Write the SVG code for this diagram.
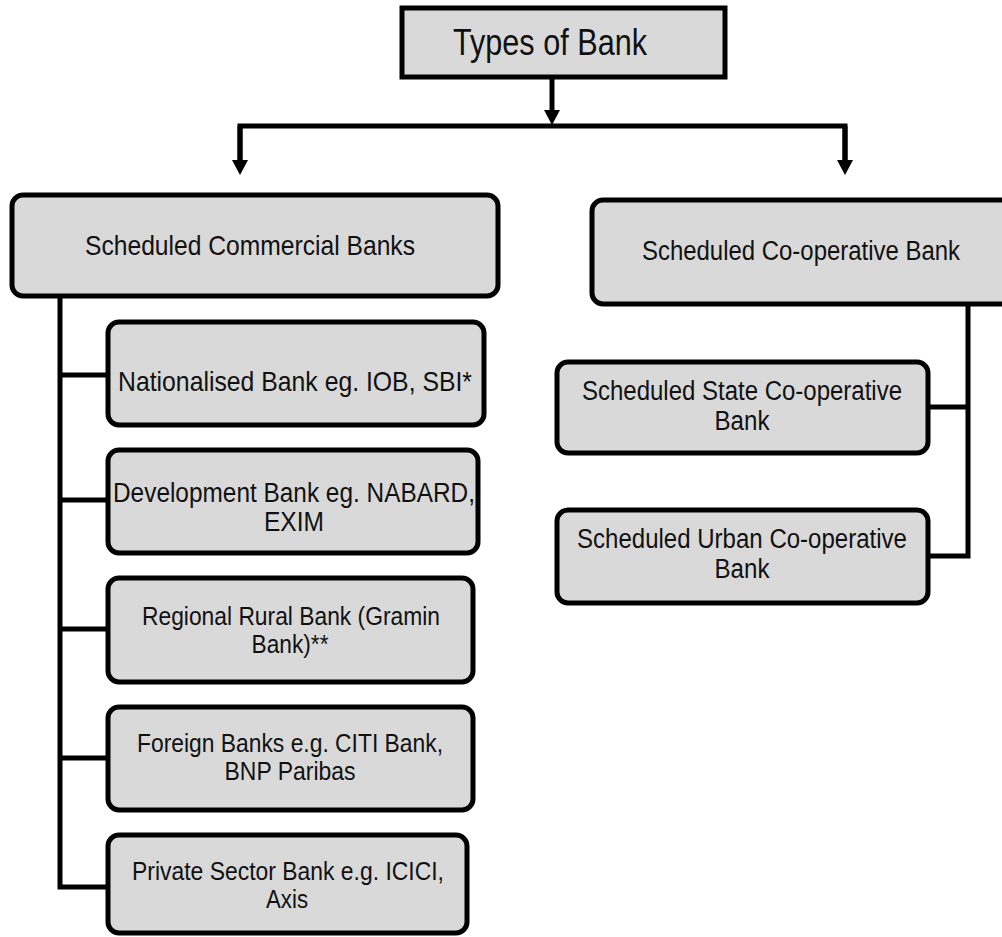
<svg xmlns="http://www.w3.org/2000/svg" width="1002" height="937" viewBox="0 0 1002 937">
<style>
.box{fill:#d9d9d9;stroke:#000;stroke-width:5}
.ln{fill:none;stroke:#000;stroke-width:5}
text{font-family:"Liberation Sans",Arial,sans-serif;fill:#111;text-anchor:middle}
.a{font-size:28px}
.b{font-size:27px}
.c{font-size:26px}
.h{font-size:37px}
</style>
<defs>
<marker id="ah" markerUnits="userSpaceOnUse" markerWidth="16" markerHeight="17" refX="8" refY="0" orient="auto" viewBox="0 -8.5 16 17" overflow="visible">
<path d="M0,-8 L15,0 L0,8 z" fill="#000"/>
</marker>
</defs>
<rect width="1002" height="937" fill="#fff"/>
<g id="connectors">
<path class="ln" d="M552,77 V118" marker-end="url(#ah)"/>
<path class="ln" d="M240,168 V126 H845 V168"/>
<path class="ln" d="M240,126 V168" marker-end="url(#ah)"/>
<path class="ln" d="M845,126 V168" marker-end="url(#ah)"/>
<path class="ln" d="M60,296 V887 H108 M60,375 H108 M60,500 H108 M60,629 H108 M60,758 H108"/>
<path class="ln" d="M968,304 V556 H928 M928,407 H968"/>
</g>
<g id="types-of-bank">
<rect class="box" x="402" y="8" width="323" height="69"/>
<text class="h" x="550" y="55" textLength="194" lengthAdjust="spacingAndGlyphs">Types of Bank</text>
</g>
<g id="scheduled-commercial">
<rect class="box" x="12" y="195" width="486" height="101" rx="11"/>
<text class="a" x="250" y="255" textLength="330" lengthAdjust="spacingAndGlyphs">Scheduled Commercial Banks</text>
</g>
<g id="scheduled-cooperative">
<rect class="box" x="592" y="200" width="420" height="104" rx="11"/>
<text class="b" x="801" y="260" textLength="318" lengthAdjust="spacingAndGlyphs">Scheduled Co-operative Bank</text>
</g>
<g id="nationalised">
<rect class="box" x="108" y="322" width="376" height="103" rx="11"/>
<text class="a" x="295" y="391" textLength="354" lengthAdjust="spacingAndGlyphs">Nationalised Bank eg. IOB, SBI*</text>
</g>
<g id="development">
<rect class="box" x="108" y="450" width="370" height="103" rx="11"/>
<text class="b" x="294" y="502" textLength="362" lengthAdjust="spacingAndGlyphs">Development Bank eg. NABARD,</text>
<text class="b" x="294" y="531" textLength="60" lengthAdjust="spacingAndGlyphs">EXIM</text>
</g>
<g id="regional">
<rect class="box" x="108" y="578" width="365" height="104" rx="11"/>
<text class="c" x="291" y="625" textLength="298" lengthAdjust="spacingAndGlyphs">Regional Rural Bank (Gramin</text>
<text class="c" x="290" y="653" textLength="77" lengthAdjust="spacingAndGlyphs">Bank)**</text>
</g>
<g id="foreign">
<rect class="box" x="108" y="707" width="365" height="103" rx="11"/>
<text class="c" x="290" y="752" textLength="306" lengthAdjust="spacingAndGlyphs">Foreign Banks e.g. CITI Bank,</text>
<text class="c" x="290" y="780" textLength="131" lengthAdjust="spacingAndGlyphs">BNP Paribas</text>
</g>
<g id="private">
<rect class="box" x="108" y="835" width="359" height="98" rx="11"/>
<text class="c" x="288" y="880" textLength="312" lengthAdjust="spacingAndGlyphs">Private Sector Bank e.g. ICICI,</text>
<text class="c" x="287" y="908" textLength="42" lengthAdjust="spacingAndGlyphs">Axis</text>
</g>
<g id="state-coop">
<rect class="box" x="557" y="362" width="371" height="91" rx="11"/>
<text class="b" x="742" y="400" textLength="320" lengthAdjust="spacingAndGlyphs">Scheduled State Co-operative</text>
<text class="b" x="742" y="430" textLength="55" lengthAdjust="spacingAndGlyphs">Bank</text>
</g>
<g id="urban-coop">
<rect class="box" x="557" y="510" width="371" height="93" rx="11"/>
<text class="b" x="742" y="548" textLength="330" lengthAdjust="spacingAndGlyphs">Scheduled Urban Co-operative</text>
<text class="b" x="742" y="578" textLength="55" lengthAdjust="spacingAndGlyphs">Bank</text>
</g>
</svg>
